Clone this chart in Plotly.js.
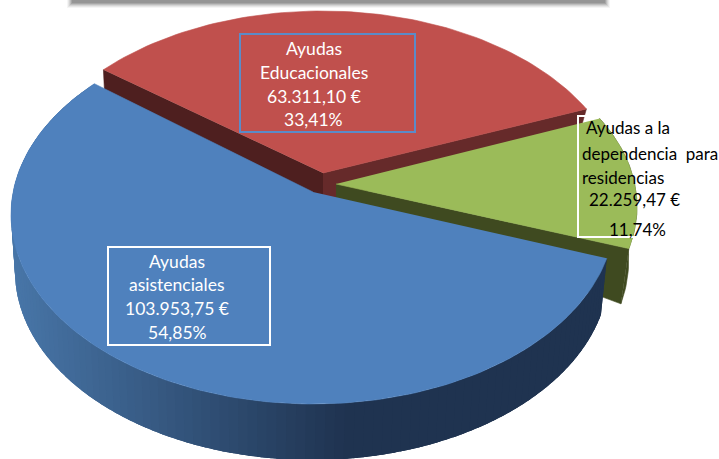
<!DOCTYPE html>
<html><head><meta charset="utf-8">
<script src="https://cdn.plot.ly/plotly-3.0.1.min.js"></script>
<style>html,body{margin:0;padding:0;background:#fff}</style>
</head><body><div id="chart" style="width:719px;height:459px"></div>
<script>
// DATA
const categories = ["Ayudas asistenciales", "Ayudas a la dependencia para residencias", "Ayudas Educacionales"];
const values = [103953.75, 22259.47, 63311.10];
const labelsBlue = ["Ayudas", "asistenciales", "103.953,75 €", "54,85%"];
const labelsRed = ["Ayudas", "Educacionales", "63.311,10 €", "33,41%"];
const labelsGreen = ["Ayudas a la", "dependencia  para", "residencias", "22.259,47 €", "11,74%"];

// PROJECTION of the tilted pie onto the page
const rad = Math.PI / 180;
const startAngle = 141.45, warpB = 7.46, warpC = 0.75;
const warp = p => p + warpB * Math.cos(p * rad) + warpC;
const total = values.reduce((a, b) => a + b, 0);
const bounds = [startAngle];
values.forEach(v => bounds.push(bounds[bounds.length - 1] + v / total * 360));
const onEll = (e, p) => { const t = warp(p) * rad; return [e.cx + e.rx * Math.cos(t), e.cy - e.ry * Math.sin(t)]; };
const arc = (e, a, b, n) => { const o = []; for (let i = 0; i <= n; i++) o.push(onEll(e, a + (b - a) * i / n)); return o; };

const traces = [];
function poly(pts, color, noLine) {
  traces.push({ type: "scatter", mode: noLine ? "none" : "lines", x: pts.map(p => p[0]), y: pts.map(p => p[1]),
    fill: "toself", fillcolor: color, line: { color: color, width: 0.6 }, hoverinfo: "skip", showlegend: false });
}
const add = (p, dx, dy) => [p[0] + dx, p[1] + dy];

// Geometry per slice
const blueTop = { cx: 313, cy: 214.5, rx: 302, ry: 189.5 }, blueApex = [313, 192];
const blueBot = { cx: 312, cy: 271, rx: 297, ry: 189 };
const greenTop = { cx: 337, cy: 206.5, rx: 300, ry: 182 }, greenApex = [336, 184];
const greenBot = { cx: 343.7, cy: 260, rx: 285, ry: 189.5 };
const redTop = { cx: 322, cy: 200.5, rx: 302, ry: 189.5 }, redApex = [323, 173];

const [b0, b1, b2, b3] = bounds; // blue b0-b1, green b1-b2, red b2-b3

// Red
const rL = onEll(redTop, b3), rR = onEll(redTop, b2);
poly([redApex, rL, add(rL, 1, 20), add(redApex, 0, 32)], "#4e1f1f");
poly([redApex, rR, add(rR, -4, 14), add(redApex, 0, 32)], "#662a2a");
poly([redApex].concat(arc(redTop, b2, b3, 80)), "#c0504d");

// Green
const gTip = onEll(greenTop, b1), gTipB = onEll(greenBot, b1);
poly(arc(greenTop, b1, b2, 40).concat(arc(greenBot, b1, b2, 40).reverse()), "#3f4a20");
poly([greenApex, gTip, gTipB, add(greenApex, 0, 14)], "#3f4a20");
poly([greenApex].concat(arc(greenTop, b1, b2, 40)), "#9bbb59");

// Blue outer wall with a left-to-right shading; each strip overlaps the next
const strips = 120, step = (b1 - b0) / strips;
const cL = [72, 118, 168], cR = [31, 51, 80];
for (let i = 0; i < strips; i++) {
  const a = b0 + step * i, c = Math.min(b1, a + step * 2.5);
  const p = arc(blueTop, a, c, 3).concat(arc(blueBot, a, c, 3).reverse());
  const mx = onEll(blueBot, a + step / 2)[0];
  const f = Math.min(1, Math.max(0, (mx - 15) / 330));
  const col = cL.map((v, k) => Math.round(v + (cR[k] - v) * f));
  poly(p, `rgb(${col.join(",")})`, true);
}
poly([blueApex].concat(arc(blueTop, b0, b1, 160)), "#4f81bd");

// Text
const annotations = [];
function txt(s, x, y, color, anchor, size) {
  annotations.push({ text: s, x, y, xref: "x", yref: "y", showarrow: false, xanchor: anchor, yanchor: "middle",
    font: { family: "Lato, 'Open Sans', sans-serif", size, color }, borderpad: 0 });
}
[48, 72, 96, 119].forEach((y, i) => txt(labelsRed[i], 313.5, y, "#ffffff", "center", 17.5));
[261, 284, 308, 332].forEach((y, i) => txt(labelsBlue[i], 177, y, "#ffffff", "center", 17.5));
[[585, 127], [581, 153], [581, 177], [588, 199], [608, 229]].forEach((p, i) => txt(labelsGreen[i], p[0], p[1], "#000000", "left", 17));

// Boxes and the soft shadow of the bar at the top
const shapes = [];
[[67, 610, 8, 0.04], [68, 609, 7, 0.06], [69, 608, 6, 0.08], [70, 607, 5, 0.1], [71, 606, 4, 0.12], [72, 605, 3, 0.1]].forEach(s =>
  shapes.push({ type: "rect", xref: "x", yref: "y", x0: s[0], x1: s[1], y0: 0, y1: s[2], fillcolor: "#000", opacity: s[3], line: { width: 0 } }));
shapes.push({ type: "rect", xref: "x", yref: "y", x0: 240, x1: 415, y0: 34, y1: 132, line: { color: "#5b8bc8", width: 2 } });
shapes.push({ type: "rect", xref: "x", yref: "y", x0: 108, x1: 270, y0: 247, y1: 345, line: { color: "#ffffff", width: 2 } });
shapes.push({ type: "rect", xref: "x", yref: "y", x0: 578, x1: 719, y0: 116, y1: 237, line: { color: "#ffffff", width: 2 } });

Plotly.newPlot("chart", traces, {
  width: 719, height: 459, margin: { l: 0, r: 0, t: 0, b: 0 }, showlegend: false,
  paper_bgcolor: "#ffffff", plot_bgcolor: "#ffffff", hovermode: false,
  xaxis: { range: [0, 719], visible: false, fixedrange: true },
  yaxis: { range: [459, 0], visible: false, fixedrange: true },
  shapes, annotations
}, { displayModeBar: false, staticPlot: true });
</script></body></html>
